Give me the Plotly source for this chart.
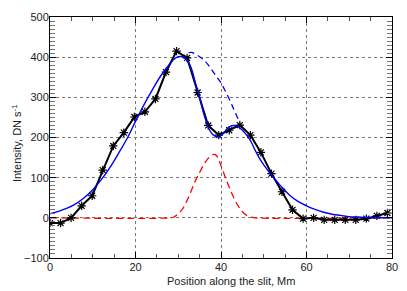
import plotly.graph_objects as go

# Observed profile (star markers)
obs_x = [0.0, 2.47, 4.93, 7.4, 9.87, 12.33, 14.8, 17.27, 19.73, 22.2, 24.67, 27.13,
         29.6, 32.07, 34.53, 37.0, 39.47, 41.93, 44.4, 46.87, 49.33, 51.8, 54.27,
         56.73, 59.2, 61.67, 64.13, 66.6, 69.07, 71.53, 74.0, 76.47, 78.93]
obs_y = [-13, -13, 0, 30, 55, 119, 179, 212, 251, 264, 296, 363,
         415, 398, 312, 230, 206, 218, 231, 206, 163, 110, 65,
         20, -2, 0, -5, -5, -5, -5, -2, 5, 12]

# Total fit (solid blue)
fit_x = [0, 2, 4, 6, 8, 10, 12, 14, 16, 18, 20, 22, 24, 26, 28, 29, 30, 31, 32, 33,
         34, 35, 36, 37, 38, 39, 40, 41, 42, 43, 44, 45, 46, 47, 48, 49, 50, 52,
         54, 56, 58, 60, 62, 64, 66, 68, 70, 72, 74, 76, 78, 80]
fit_y = [10, 16, 24, 35, 50, 70, 95, 125, 160, 197, 240, 282, 320, 355, 383, 395, 401,
         401, 393, 374, 336, 300, 258, 226, 208, 202, 205, 216, 227, 230, 227, 218,
         206, 190, 168, 148, 132, 104, 79, 57, 41, 30, 21, 14, 9, 6, 3, 2, 1, 0.5,
         0.3, 0.2]

# Emission component without absorption (dashed blue)
em_x = [32.4, 33, 34, 35, 36, 37, 38, 39, 40, 41, 42, 43, 44]
em_y = [411, 412, 408, 401, 393, 381, 366, 351, 336, 316, 294, 270, 246]

# Absorption component (dashed red)
ab_x = [0, 28, 29, 30, 31, 32, 33, 34, 35, 36, 37, 38, 38.5, 39, 40, 41, 42, 43,
        44, 45, 46, 47, 48, 80]
ab_y = [0, 0, 2, 10, 22, 42, 66, 92, 113, 133, 148, 157, 158, 154, 130, 101, 74,
        50, 30, 15, 6, 2, 0, 0]

x_ticks = [0, 20, 40, 60, 80]
y_ticks = [-100, 0, 100, 200, 300, 400, 500]

FONT = "Liberation Sans, Arial, sans-serif"
TXT = "#222222"

fig = go.Figure()
fig.add_trace(go.Scatter(x=ab_x, y=ab_y, mode="lines", line_shape="spline",
                         line=dict(color="#ff0000", width=1.3, dash="7px,4px")))
fig.add_trace(go.Scatter(x=em_x, y=em_y, mode="lines", line_shape="spline",
                         line=dict(color="#0000ff", width=1.3, dash="6px,4px")))
fig.add_trace(go.Scatter(x=obs_x, y=obs_y, mode="lines+markers",
                         line=dict(color="black", width=2),
                         marker=dict(symbol="asterisk-open", size=7,
                                     line=dict(color="black", width=1.2))))
fig.add_trace(go.Scatter(x=fit_x, y=fit_y, mode="lines", line_shape="spline",
                         line=dict(color="#0000ff", width=1.4)))

axis_common = dict(
    showline=True, linecolor="black", linewidth=1, mirror="ticks",
    ticks="inside", ticklen=6, tickcolor="black",
    showgrid=True, gridcolor="#777777", griddash="dot", gridwidth=1,
    zeroline=False, automargin=False,
    tickfont=dict(family=FONT, size=11, color=TXT),
)

fig.update_xaxes(range=[0, 80], tickvals=x_ticks, ticklabelstandoff=-1,
                 minor=dict(dtick=5, ticks="inside", ticklen=4, tickcolor="#555555",
                            showgrid=False),
                 **axis_common)
fig.update_yaxes(range=[-100, 500], tickvals=y_ticks, ticklabelstandoff=-2,
                 minor=dict(dtick=10, ticks="inside", ticklen=5, tickcolor="#777777",
                            showgrid=False),
                 **axis_common)

fig.add_annotation(text="Position along the slit, Mm", xref="paper", yref="paper",
                   x=0.53, y=-0.095, xanchor="center", yanchor="middle", showarrow=False,
                   font=dict(family=FONT, size=11, color=TXT))
fig.add_annotation(text="Intensity, DN s<sup>-1</sup>", xref="paper", yref="paper",
                   x=-0.097, y=0.476, xanchor="center", yanchor="middle",
                   textangle=-90, showarrow=False,
                   font=dict(family=FONT, size=11, color=TXT))

fig.update_layout(
    width=399, height=283,
    margin=dict(l=42, r=15, t=9, b=33),
    paper_bgcolor="white", plot_bgcolor="white",
    showlegend=False,
)

fig.write_html("out.html")
